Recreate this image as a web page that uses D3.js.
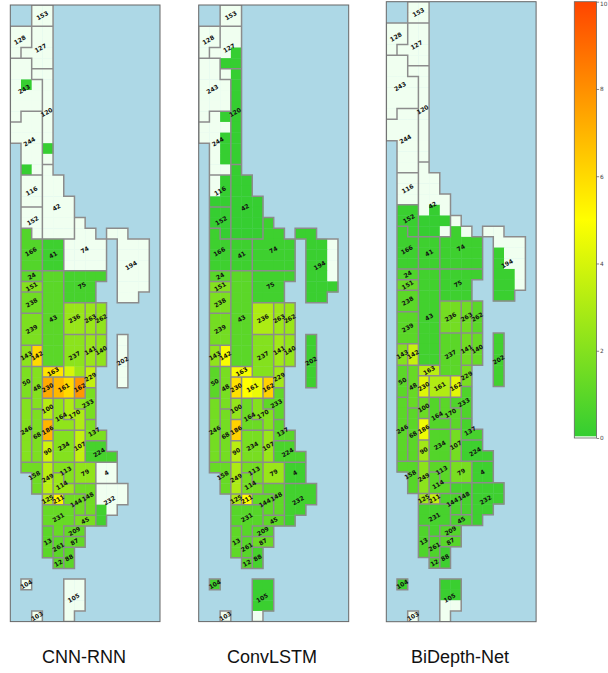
<!DOCTYPE html>
<html><head><meta charset="utf-8">
<script src="https://cdn.jsdelivr.net/npm/d3@7/dist/d3.min.js"></script>
<style>html,body{margin:0;padding:0;background:#fff;overflow:hidden}svg{display:block}</style>
</head><body><svg id="c" width="608" height="673"></svg>
<script>
const zoneRows = [
". . 153 153", ". . 153 153",
"128 128 127 127", "128 128 127 127", "128 127 127 127",
"243 243 127 127", "243 243 120 120",
"243 243 243 120", "243 243 243 120", "243 243 243 120",
"243 244 244 120", "244 244 244 120", "244 244 244 120",
". 244 244 120", ". 244 244 120", ". 244 244 42",
". 116 116 42 42", ". 116 116 42 42", ". 116 116 42 42 42",
". 152 152 42 42 42", ". 152 152 42 42 42 74",
". 166 152 42 42 42 74 74 . 194 194",
". 166 166 41 41 74 74 74 74 . 194 194 194",
". 166 166 41 41 74 74 74 74 . 194 194 194",
". 166 166 41 41 74 74 74 74 . 194 194 194",
". 24 24 43 43 75 75 75 75 . 194 194 194",
". 151 151 43 43 75 75 75 . . 194 194 194",
". 238 238 43 43 75 75 75 . . 194 194",
". 238 238 43 43 236 236 263 262",
". 239 239 43 43 236 236 263 262",
". 239 239 43 43 236 236 263 262",
". 239 239 43 43 237 237 141 140 . 202",
". 143 142 43 43 237 237 141 140 . 202",
". 143 142 43 43 237 237 141 140 . 202",
". 50 48 163 163 237 237 229 . . 202",
". 50 48 230 161 161 162 229 . . 202",
". 50 48 230 161 161 162 233",
". 246 48 100 164 170 233 233",
". 246 68 100 164 170 170 233",
". 246 68 186 164 164 170 137",
". 246 68 186 234 234 107 137 137",
". 246 68 90 234 234 107 224 224",
". 246 68 90 234 234 107 224 224 224",
". 158 158 249 113 113 79 79 4 4",
". . 158 249 114 113 79 79 4 4",
". . 158 249 114 114 148 148 232 232 232",
". . . 125 211 144 144 148 232 232 232",
". . . 231 231 231 144 148 232 232",
". . . 231 231 231 45 45 232",
". . . 13 231 209 209",
". . . 13 261 87 87",
". . . 13 261 88",
". . . . 12 88",
"",
". 104 . . . 105 105",
". . . . . 105 105",
". . . . . 105 105",
". . 103 . . 105"
];

const zoneIds =  [153,128,127,243,120,244,116,152,42,74,194,166,41,24,151,238,239,143,142,43,75,236,263,262,237,141,140,202,163,50,48,230,161,162,229,233,246,68,100,164,170,186,234,107,137,224,158,249,113,114,79,4,148,144,125,211,231,45,232,209,13,261,87,88,12,104,105,103,90];
const cnnRnn =   [0,0,0,0,0,0,0,0,0,0,0,0.8,0.3,1.0,2.0,1.5,1.8,2.2,6.0,1.0,0.5,2.5,2.5,2.3,2.2,2.5,2.3,0,5.7,1.8,2.0,7.3,6.9,7.8,3.5,1.7,2.0,1.8,3.2,2.3,3.0,7.0,2.0,3.5,1.8,0.5,1.5,3.3,2.0,2.5,2.3,0,1.5,1.5,3.3,5.2,1.3,1.7,0,1.2,1.0,1.0,1.2,1.0,1.0,0,0,0,3.8];
const convLstm = [0,0,0.1,0,0.1,0,0.1,0.1,0.1,0.3,0.2,0.3,0.3,0.9,2.0,1.8,1.6,2.3,4.8,1.0,0.4,3.0,2.6,2.5,2.0,2.7,2.4,0.3,4.8,1.0,1.7,5.8,5.0,6.2,2.7,1.1,1.6,1.6,2.4,1.4,2.0,6.2,1.7,2.5,1.0,0.6,1.3,3.0,1.6,1.6,2.5,0.3,1.1,1.1,3.0,5.0,0.9,1.1,0.4,0.9,1.1,0.9,1.4,0.5,0.9,0.4,0.2,0,3.3];
const biDepth =  [0,0,0,0,0,0,0,0.2,0,0.3,0,0.3,0.3,0.7,1.3,1.0,1.0,2.0,3.6,0.4,0.3,1.6,1.5,1.0,1.0,1.5,1.3,0.4,3.3,1.0,1.3,4.2,3.1,4.3,1.7,0.7,1.0,1.0,1.4,0.8,1.0,4.6,0.8,1.6,0.5,0.3,0.9,2.2,1.0,1.0,1.7,0.3,0.5,0.6,2.7,3.5,0.5,0.6,0.3,0.8,0.7,0.7,0.9,0.3,0.6,0.3,0,0,2.7];

// single cells that differ from their zone: [row, column, value]
const cnnRnnCells = [[7,1,0.1],[13,3,0.1],[15,1,0.1],[47,8,0.4],[48,8,0.4],[34,5,4.0],[34,6,2.6],[35,5,6.0],[36,5,6.0],[37,6,2.2]];
const convLstmCells = [[2,2,0],[2,3,0],[3,2,0],[3,3,0],[4,1,0],[4,2,0],[6,2,0],[10,2,0.1],[12,2,0.1],[13,2,0.1],[14,2,0.1],
  [16,1,0],[17,1,0],[22,12,0],[23,12,0],[24,12,0],[25,12,0],[57,5,0],[35,5,4.5],[36,5,4.5]];
const biDepthCells = [[19,4,0.1],[20,3,0.1],[20,4,0.1],[20,5,0.1],[21,3,0.1],[21,4,0.1],
  [20,6,0],[21,7,0],[23,10,0.2],[24,10,0.2],[25,10,0.2],[26,10,0.2],[27,10,0.2],[25,11,0.2],[26,11,0.2],[27,11,0.2],
  [54,5,0.2],[54,6,0.2],[55,5,0.2],[55,6,0.2]];

const modelNames = ["CNN-RNN","ConvLSTM","BiDepth-Net"];
const tickValues = [0,2,4,6,8,10];

const cols = d3.range(14), rows = d3.range(58);
const grid = zoneRows.map(s => { const a = s ? s.split(" ") : []; return cols.map(c => (a[c] && a[c] !== ".") ? +a[c] : null); });

const color = d3.scaleLinear().domain([0,5,10]).range(["limegreen","yellow","orangered"]).clamp(true);
const fill = v => v <= 0 ? "honeydew" : color(v);

const frames = [
 {x:10.3,y:5,w:149.7,h:616.6,titleX:84,vals:cnnRnn,cells:cnnRnnCells},
 {x:198.7,y:5,w:150,h:616.6,titleX:272,vals:convLstm,cells:convLstmCells},
 {x:386.3,y:1.7,w:149.8,h:620,titleX:460,vals:biDepth,cells:biDepthCells}
];

// zone label anchor = centre of gravity of its grid cells
const anchors = new Map();
zoneIds.forEach(z => {
  const pts = [];
  grid.forEach((row,r) => row.forEach((v,c) => { if (v === z) pts.push([c+.5,r+.5]); }));
  anchors.set(z,[d3.mean(pts,p=>p[0]), d3.mean(pts,p=>p[1])]);
});

const svg = d3.select("#c");
const defs = svg.append("defs");

frames.forEach((p,i) => {
  const x = d3.scaleLinear().domain([0,14]).range([p.x,p.x+p.w]);
  const y = d3.scaleLinear().domain([0,58]).range([p.y,p.y+p.h]);
  defs.append("clipPath").attr("id","clip"+i).append("rect").attr("x",p.x).attr("y",p.y).attr("width",p.w).attr("height",p.h);
  const g = svg.append("g");
  g.append("rect").attr("x",p.x).attr("y",p.y).attr("width",p.w).attr("height",p.h).attr("fill","lightblue");
  const inner = g.append("g").attr("clip-path",`url(#clip${i})`);
  const valueOf = new Map(zoneIds.map((z,k)=>[z,p.vals[k]]));
  const over = new Map(p.cells.map(d=>[d[0]+"_"+d[1],d[2]]));
  const cells = [];
  rows.forEach(r => cols.forEach(c => {
    const z = grid[r][c];
    if (z === null) return;
    const k = r+"_"+c;
    cells.push({r,c,v: over.has(k) ? over.get(k) : valueOf.get(z)});
  }));
  inner.selectAll("rect.cell").data(cells).join("rect").attr("class","cell")
    .attr("x",d=>x(d.c)).attr("y",d=>y(d.r))
    .attr("width",d=>x(d.c+1)-x(d.c)+.3).attr("height",d=>y(d.r+1)-y(d.r)+.3)
    .attr("fill",d=>fill(d.v));
  // zone outlines: every grid edge separating two different zones
  let path = "";
  const at = (r,c) => (r<0||r>=58||c<0||c>=14) ? null : grid[r][c];
  rows.forEach(r => cols.forEach(c => {
    if (at(r,c) !== at(r,c+1) && c<13) path += `M${x(c+1)},${y(r)}V${y(r+1)}`;
    if (at(r,c) !== at(r+1,c) && r<57) path += `M${x(c)},${y(r+1)}H${x(c+1)}`;
    if (c===0 && at(r,0)!==null) path += `M${x(0)},${y(r)}V${y(r+1)}`;
    if (c===13 && at(r,13)!==null) path += `M${x(14)},${y(r)}V${y(r+1)}`;
    if (r===0 && at(0,c)!==null) path += `M${x(c)},${y(0)}H${x(c+1)}`;
    if (r===57 && at(57,c)!==null) path += `M${x(c)},${y(58)}H${x(c+1)}`;
  }));
  inner.append("path").attr("d",path).attr("fill","none").attr("stroke","#8c8c8c").attr("stroke-width",1.5).attr("stroke-linecap","square");
  g.append("rect").attr("x",p.x).attr("y",p.y).attr("width",p.w).attr("height",p.h).attr("fill","none").attr("stroke","#666").attr("stroke-width",1);
  g.selectAll("text.z").data(zoneIds).join("text").attr("class","z")
    .attr("transform",z=>`translate(${x(anchors.get(z)[0])},${y(anchors.get(z)[1])}) rotate(-30)`)
    .attr("text-anchor","middle").attr("dy","0.35em")
    .attr("font-family","DejaVu Sans").attr("font-weight","bold").attr("font-size",6).attr("fill","#111")
    .text(z=>z);
  svg.append("text").attr("x",p.titleX).attr("y",663).attr("text-anchor","middle")
    .attr("font-family","Liberation Sans").attr("font-size",18).attr("fill","#111").text(modelNames[i]);
});

// colour bar
const cb = {x:574.3,w:22.3,top:1.7,bottom:438};
const yc = d3.scaleLinear().domain([0,10]).range([cb.bottom,cb.top]);
const grad = defs.append("linearGradient").attr("id","cbg").attr("x1",0).attr("x2",0).attr("y1",1).attr("y2",0);
[0,5,10].forEach(v => grad.append("stop").attr("offset",v/10).attr("stop-color",color(v)));
svg.append("rect").attr("x",cb.x).attr("y",cb.top).attr("width",cb.w).attr("height",cb.bottom-cb.top).attr("fill","url(#cbg)");
svg.append("rect").attr("x",cb.x).attr("y",yc(0.04)).attr("width",cb.w).attr("height",yc(0)-yc(0.04)).attr("fill","honeydew");
svg.append("rect").attr("x",cb.x).attr("y",cb.top).attr("width",cb.w).attr("height",cb.bottom-cb.top).attr("fill","none").attr("stroke","#666").attr("stroke-width",.8);
const ax = svg.append("g").attr("transform",`translate(${cb.x+cb.w},0)`)
  .call(d3.axisRight(yc).tickValues(tickValues).tickSize(2.5).tickPadding(1).tickFormat(d3.format("d")));
ax.select(".domain").remove();
ax.selectAll("line").attr("stroke","#555").attr("stroke-width",.7);
ax.selectAll("text").attr("font-family","DejaVu Sans").attr("font-size",5.8).attr("fill","#444");
// keep the top label inside the picture
ax.selectAll(".tick").filter(d=>d===10).select("text").attr("dy","0.7em");
</script></body></html>
